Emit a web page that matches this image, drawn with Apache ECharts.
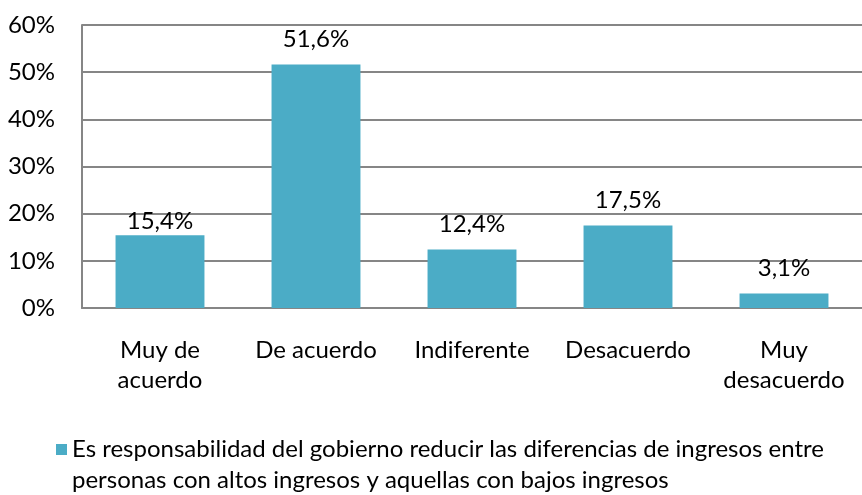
<!DOCTYPE html>
<html>
<head>
<meta charset="utf-8">
<script src="https://cdn.jsdelivr.net/npm/echarts@6/dist/echarts.min.js"></script>
<style>
html,body{margin:0;padding:0;background:#fff;}
#chart{width:862px;height:495px;}
</style>
</head>
<body>
<div id="chart"></div>
<script>
const categories = ['Muy de\nacuerdo', 'De acuerdo', 'Indiferente', 'Desacuerdo', 'Muy\ndesacuerdo'];
const values = [15.4, 51.6, 12.4, 17.5, 3.1];
const yTicks = [0, 10, 20, 30, 40, 50, 60];
const seriesName = 'Es responsabilidad del gobierno reducir las diferencias de ingresos entre personas con altos ingresos y aquellas con bajos ingresos';
const legendLine1 = 'Es responsabilidad del gobierno reducir las diferencias de ingresos entre';
const legendLine2 = 'personas con altos ingresos y aquellas con bajos ingresos';

const FONT = 'Lato';
const FS = 24;
const chart = echarts.init(document.getElementById('chart'));
const labelDist = [2, 13, 13, 13, 13];
chart.setOption({
  animation: false,
  grid: {left: 82, top: 25, right: -6, bottom: 187},
  xAxis: {
    type: 'category',
    data: categories,
    axisLine: {lineStyle: {color: '#868686', width: 2}},
    axisTick: {show: false},
    axisLabel: {color: '#000', fontFamily: FONT, fontSize: FS, lineHeight: 30, margin: 27, interval: 0}
  },
  yAxis: {
    type: 'value',
    min: yTicks[0],
    max: yTicks[yTicks.length - 1],
    interval: 10,
    axisLine: {show: true, lineStyle: {color: '#868686', width: 2}},
    axisTick: {show: false},
    splitLine: {lineStyle: {color: '#868686', width: 2}},
    axisLabel: {color: '#000', fontFamily: FONT, fontSize: FS, margin: 27, formatter: v => v + '%'}
  },
  legend: {
    show: true,
    left: 56,
    top: 434,
    padding: 0,
    itemWidth: 11,
    itemHeight: 11,
    icon: 'rect',
    textStyle: {color: '#000', fontFamily: FONT, fontSize: FS, lineHeight: 31},
    formatter: () => legendLine1
  },
  graphic: [{
    type: 'text',
    x: 72,
    y: 480,
    style: {text: legendLine2, fill: '#000', font: FS + 'px ' + FONT, verticalAlign: 'middle'}
  }],
  series: [{
    name: seriesName,
    type: 'bar',
    barCategoryGap: '43%',
    data: values.map((v, i) => ({value: v, label: {distance: labelDist[i]}})),
    itemStyle: {color: '#4BACC6'},
    label: {
      show: true,
      position: 'top',
      color: '#000',
      fontFamily: FONT,
      fontSize: FS,
      formatter: p => p.value.toFixed(1).replace('.', ',') + '%'
    }
  }]
});
</script>
</body>
</html>
